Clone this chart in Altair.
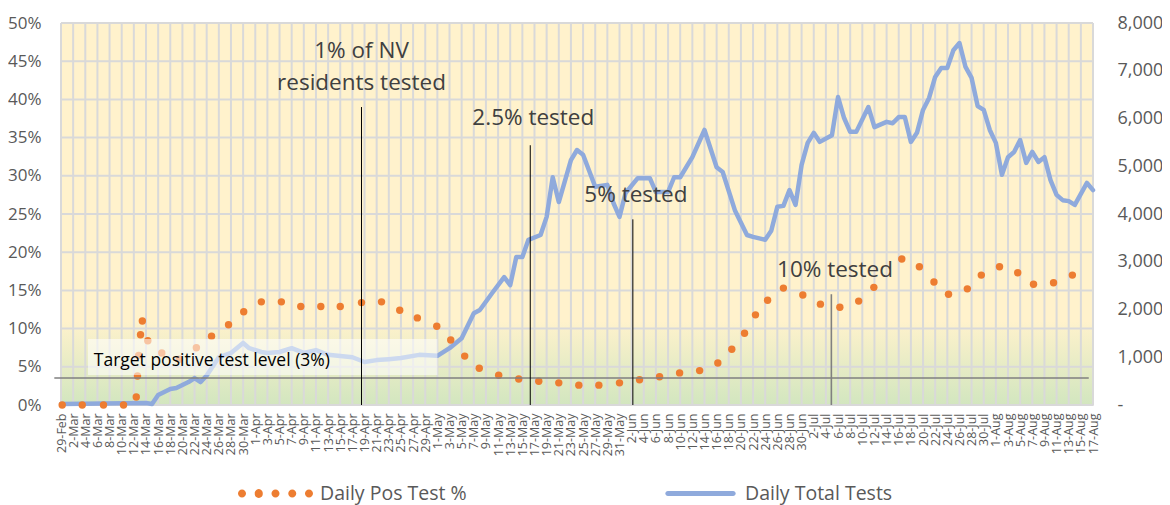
import datetime as dt
import altair as alt
import pandas as pd

# ---------------- data ----------------
START = dt.date(2020, 2, 29)
label_days = list(range(0, 171, 2))
tick_labels = [
    f"{(START + dt.timedelta(days=d)).day}-{(START + dt.timedelta(days=d)).strftime('%b')}"
    for d in label_days
]
pct_ticks = [0, 0.05, 0.10, 0.15, 0.20, 0.25, 0.30, 0.35, 0.40, 0.45, 0.50]
tests_ticks = [0, 1000, 2000, 3000, 4000, 5000, 6000, 7000, 8000]

# Daily Total Tests (day offset from 29-Feb, value)
tests_day = [0, 14, 15, 16, 18, 19, 21, 22, 23, 24, 26, 28, 30, 31, 33, 34, 36, 38, 40, 42,
             44, 48, 50, 52, 54, 56, 59, 62, 64, 66, 68, 69, 71, 73, 74, 75, 76, 77, 79, 80,
             81, 82, 84, 85, 86, 88, 90, 91, 92, 93, 95, 97, 98, 100, 101, 102, 104, 106, 108, 109,
             111, 113, 114, 116, 117, 118, 119, 120, 121, 122, 123, 124, 125, 127, 128, 129, 130, 131, 133, 134,
             136, 137, 138, 139, 140, 141, 142, 143, 144, 145, 146, 147, 148, 149, 150, 151, 152, 153, 154, 155,
             156, 157, 158, 159, 160, 161, 162, 163, 164, 165, 166, 167, 169, 170]
tests_val = [20, 40, 20, 210, 335, 356, 480, 565, 480, 620, 1000, 1090, 1300, 1190, 1110, 1090, 1110, 1190, 1090, 1150,
             1050, 1000, 900, 940, 960, 985, 1050, 1030, 1190, 1400, 1920, 1990, 2340, 2680, 2510, 3100, 3100, 3460, 3560, 3940,
             4770, 4250, 5130, 5340, 5240, 4570, 4610, 4230, 3940, 4440, 4750, 4750, 4460, 4460, 4770, 4770, 5190, 5760, 4980, 4880,
             4080, 3560, 3520, 3460, 3650, 4150, 4170, 4500, 4190, 5030, 5490, 5700, 5510, 5650, 6450, 6010, 5720, 5720, 6240, 5820,
             5930, 5900, 6030, 6030, 5510, 5700, 6180, 6430, 6870, 7060, 7060, 7430, 7580, 7080, 6850, 6260, 6180, 5760, 5490, 4820,
             5190, 5300, 5550, 5070, 5300, 5090, 5190, 4710, 4400, 4290, 4270, 4190, 4650, 4500]

# Daily Pos Test % (round-dot series, day offset, share)
pos_day = [0.2, 3.5, 7.0, 10.3, 12.4, 12.6, 12.8, 13.1, 13.4, 14.3, 16.6, 19.5, 22.3, 24.8, 27.6, 30.1,
           33.0, 36.3, 39.5, 42.8, 46.0, 49.5, 52.8, 55.8, 58.7, 61.9, 64.2, 66.5, 68.9, 72.1, 75.4, 78.7,
           82.0, 85.3, 88.6, 92.0, 95.3, 98.6, 101.9, 105.2, 108.2, 110.5, 112.6, 114.4, 116.4, 119.0, 122.2,
           125.1, 128.3, 131.4, 133.9, 138.5, 141.4, 143.8, 146.2, 149.3, 151.6, 154.6, 157.6, 160.2, 163.5, 166.6]
pos_val = [0.0, 0.0, 0.0, 0.0, 0.0105, 0.038, 0.065, 0.092, 0.110, 0.084, 0.068, 0.060, 0.075, 0.090, 0.105, 0.122,
           0.135, 0.135, 0.129, 0.129, 0.129, 0.134, 0.135, 0.124, 0.114, 0.103, 0.085, 0.064, 0.048, 0.039, 0.034, 0.031,
           0.029, 0.026, 0.026, 0.029, 0.033, 0.037, 0.042, 0.045, 0.055, 0.073, 0.094, 0.118, 0.137, 0.153, 0.144,
           0.132, 0.128, 0.136, 0.154, 0.191, 0.181, 0.161, 0.145, 0.152, 0.170, 0.181, 0.173, 0.158, 0.160, 0.170]

# annotations
ann_rule_day = [49.5, 77.3, 94.2, 126.9]
ann_rule_top = [0.390, 0.340, 0.243, 0.145]
ann_text = ["1% of NV", "residents tested", "2.5% tested", "5% tested", "10% tested"]
ann_text_day = [49.5, 49.5, 77.8, 94.7, 127.5]
ann_text_pct = [0.454, 0.412, 0.366, 0.266, 0.168]

target_label = "Target positive test level (3%)"
target_level = 0.0353
target_span = [-1.1, 169.3]
target_box_day = [4.45, 62.0]
target_box_pct = [0.0393, 0.0864]
target_label_pos = [5.4, 0.0514]

series_names = ["Daily Pos Test %", "Daily Total Tests"]

# ---------------- styles ----------------
FONT = "Open Sans"
ORANGE = "#ed7d31"
BLUE = "#8faadc"
GRID = "#d9d9d9"
AXIS_TXT = "#595959"
YELLOW = "#fff2cc"
GREEN = "#d2e6bf"

W, H = 1032, 382

tests_df = pd.DataFrame({"day": tests_day, "tests": tests_val})
pos_df = pd.DataFrame({"day": pos_day, "pct": pos_val})
vgrid_df = pd.DataFrame({"day": label_days})
hgrid_df = pd.DataFrame({"pct": pct_ticks})
bg_df = pd.DataFrame({"day": [0], "day2": [170], "pct": [0.0], "pct2": [0.5]})
grad_df = pd.DataFrame({"day": [0], "day2": [170], "pct": [0.0], "pct2": [0.11]})
rule_df = pd.DataFrame({"day": ann_rule_day, "pct": ann_rule_top, "pct2": [0] * 4, "k": range(4)})
text_df = pd.DataFrame({"day": ann_text_day, "pct": ann_text_pct, "txt": ann_text})
tline_df = pd.DataFrame({"day": [target_span[0]], "day2": [target_span[1]], "pct": [target_level]})
tbox_df = pd.DataFrame({"day": [target_box_day[0]], "day2": [target_box_day[1]],
                        "pct": [target_box_pct[0]], "pct2": [target_box_pct[1]]})
tlabel_df = pd.DataFrame({"day": [target_label_pos[0]], "pct": [target_label_pos[1]], "txt": [target_label]})
legend_df = pd.DataFrame({"series": series_names})

label_expr = "[" + ",".join(f"'{t}'" for t in tick_labels) + "][round(datum.value / 2)]"

X = alt.X(
    "day:Q",
    scale=alt.Scale(domain=[0, 170], nice=False, zero=False),
    axis=alt.Axis(values=label_days, labelExpr=label_expr, labelAngle=-90, labelFontSize=12.5,
                  labelColor=AXIS_TXT, labelFont=FONT, ticks=False, domain=False, grid=False,
                  labelPadding=8, labelFlush=False, labelOverlap=False, title=None),
    title=None,
)
X2 = alt.X2("day2:Q")

Y_left = alt.Y(
    "pct:Q",
    scale=alt.Scale(domain=[0, 0.5], nice=False, zero=True),
    axis=alt.Axis(values=pct_ticks, format=".0%", labelFontSize=17, labelColor=AXIS_TXT, labelFont=FONT,
                  ticks=False, domain=False, grid=False, labelPadding=20, title=None),
    title=None,
)
Y_top = alt.Y("pct:Q", scale=alt.Scale(domain=[0, 0.5], nice=False, zero=True), axis=None, title=None)
Y2 = alt.Y2("pct2:Q")

# ---- background group (left axis) ----
bg = alt.Chart(bg_df).mark_rect(color=YELLOW).encode(x=X, x2=X2, y=Y_left, y2=Y2)
grad = alt.Chart(grad_df).mark_rect(
    color=alt.Gradient(gradient="linear", x1=0, x2=0, y1=1, y2=0,
                       stops=[alt.GradientStop(color=GREEN, offset=0),
                              alt.GradientStop(color=YELLOW, offset=1)])
).encode(x=X, x2=X2, y=Y_left, y2=Y2)
vgrid = alt.Chart(vgrid_df).mark_rule(color=GRID, strokeWidth=2).encode(x=X)
hgrid = alt.Chart(hgrid_df).mark_rule(color=GRID, strokeWidth=2).encode(y=Y_left)
back_group = alt.layer(bg, grad, vgrid, hgrid)

# ---- tests line (right axis) ----
tests_line = alt.Chart(tests_df).mark_line(color=BLUE, strokeWidth=4.5, strokeJoin="round", strokeCap="round").encode(
    x=X,
    y=alt.Y("tests:Q", scale=alt.Scale(domain=[0, 8000], nice=False),
            axis=alt.Axis(orient="right", values=tests_ticks,
                          labelExpr="datum.value == 0 ? '-' : format(datum.value, ',')",
                          labelFontSize=18, labelColor=AXIS_TXT, labelFont=FONT, ticks=False,
                          domain=False, grid=False, labelPadding=24, labelAlign="left", title=None),
            title=None),
)

# ---- top group ----
dots = alt.Chart(pos_df).mark_circle(color=ORANGE, size=55, opacity=1).encode(x=X, y=Y_top)
tline = alt.Chart(tline_df).mark_rule(color="#7f7f7f", strokeWidth=1.5).encode(x=X, x2=X2, y=Y_top)
tbox = alt.Chart(tbox_df).mark_rect(color="white", opacity=0.55).encode(x=X, x2=X2, y=Y_top, y2=Y2)
tlabel = alt.Chart(tlabel_df).mark_text(align="left", baseline="alphabetic", fontSize=17.5, font=FONT,
                                        color="#000000").encode(x=X, y=Y_top, text="txt:N")
rules_black = alt.Chart(rule_df).transform_filter("datum.k < 3").mark_rule(color="#000000", strokeWidth=1).encode(
    x=X, y=Y_top, y2=Y2)
rules_grey = alt.Chart(rule_df).transform_filter("datum.k == 3").mark_rule(color="#808080", strokeWidth=1.6).encode(
    x=X, y=Y_top, y2=Y2)
ann_texts = alt.Chart(text_df).mark_text(align="center", baseline="alphabetic", fontSize=22.5, font=FONT,
                                         color="#404040").encode(x=X, y=Y_top, text="txt:N")

# legend (custom symbols: row of round dots, and a thick line)
r = 0.107
dot_path = " ".join(
    f"M{cx - r:.3f},0 A{r},{r} 0 1,0 {cx + r:.3f},0 A{r},{r} 0 1,0 {cx - r:.3f},0 Z"
    for cx in [-0.893 + i * 0.4465 for i in range(5)]
)
line_path = "M-0.87,-0.067 L0.87,-0.067 A0.067,0.067 0 0,1 0.87,0.067 L-0.87,0.067 A0.067,0.067 0 0,1 -0.87,-0.067 Z"
leg_def = alt.Legend(orient="none", legendX=177, legendY=433, direction="horizontal", columnPadding=196,
                     labelFontSize=19.5, labelFont=FONT, labelColor=AXIS_TXT, labelOffset=7, symbolSize=5625,
                     symbolStrokeWidth=0, padding=0, title=None, labelLimit=400, symbolOpacity=1)
legend_layer = alt.Chart(legend_df).transform_filter("false").mark_point(filled=True, opacity=1).encode(
    color=alt.Color("series:N", scale=alt.Scale(domain=series_names, range=[ORANGE, BLUE]), legend=leg_def),
    shape=alt.Shape("series:N", scale=alt.Scale(domain=series_names, range=[dot_path, line_path]), legend=leg_def),
)

top_group = alt.layer(dots, tline, tbox, tlabel, rules_black, rules_grey, ann_texts, legend_layer)

chart = alt.layer(back_group, tests_line, top_group).resolve_scale(y="independent").properties(
    width=W, height=H,
    autosize=alt.AutoSizeParams(type="none"),
    padding={"left": 53, "top": 15, "right": 69, "bottom": 100},
).configure_view(stroke=None).configure(font=FONT, background="white")

chart.save("out.html", embed_options={"renderer": "svg", "actions": False})
